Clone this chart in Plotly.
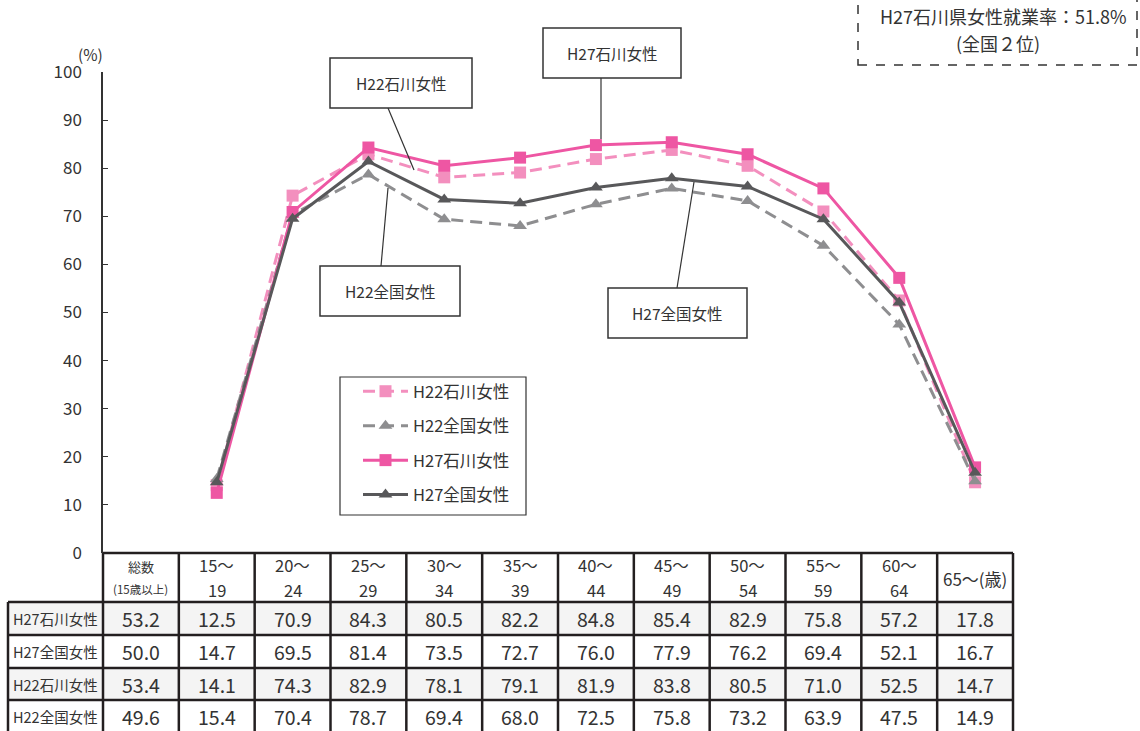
import plotly.graph_objects as go

W, H = 1140, 731

# ---------------- data ----------------
categories = ["総数", "15～19", "20～24", "25～29", "30～34", "35～39", "40～44",
              "45～49", "50～54", "55～59", "60～64", "65～"]
age_groups = categories[1:]
header_labels = ["総数", "15～<br>19", "20～<br>24", "25～<br>29", "30～<br>34", "35～<br>39",
                 "40～<br>44", "45～<br>49", "50～<br>54", "55～<br>59", "60～<br>64", "65～(歳)"]

series_names = ["H22石川女性", "H22全国女性", "H27石川女性", "H27全国女性"]
h22_ishikawa = [14.1, 74.3, 82.9, 78.1, 79.1, 81.9, 83.8, 80.5, 71.0, 52.5, 14.7]
h22_zenkoku = [15.4, 70.4, 78.7, 69.4, 68.0, 72.5, 75.8, 73.2, 63.9, 47.5, 14.9]
h27_ishikawa = [12.5, 70.9, 84.3, 80.5, 82.2, 84.8, 85.4, 82.9, 75.8, 57.2, 17.8]
h27_zenkoku = [14.7, 69.5, 81.4, 73.5, 72.7, 76.0, 77.9, 76.2, 69.4, 52.1, 16.7]

total_h22_ishikawa = 53.4
total_h22_zenkoku = 49.6
total_h27_ishikawa = 53.2
total_h27_zenkoku = 50.0

table_row_names = ["H27石川女性", "H27全国女性", "H22石川女性", "H22全国女性"]
table_rows = [
    [total_h27_ishikawa] + h27_ishikawa,
    [total_h27_zenkoku] + h27_zenkoku,
    [total_h22_ishikawa] + h22_ishikawa,
    [total_h22_zenkoku] + h22_zenkoku,
]

rate_text = "H27石川県女性就業率：51.8%"
rank_text = "(全国２位)"

# ---------------- helpers ----------------
FONT = "Noto Sans CJK JP"
TXT = "#333333"


def px(x):
    return x / W


def py(y):
    return 1 - y / H


X0, X1 = 103, 1013
Y_TOP, Y_ZERO = 72, 553
cw = (X1 - X0) / len(categories)
bounds = [X0 + i * cw for i in range(len(categories) + 1)]

fig = go.Figure()

styles = {
    "H22石川女性": dict(color="#f38fbe", dash="12px,7px", symbol="square", size=12),
    "H22全国女性": dict(color="#8e8e90", dash="12px,7px", symbol="triangle-up", size=12),
    "H27石川女性": dict(color="#ee56a3", dash="solid", symbol="square", size=12),
    "H27全国女性": dict(color="#58585a", dash="solid", symbol="triangle-up", size=12),
}
values = {"H22石川女性": h22_ishikawa, "H22全国女性": h22_zenkoku,
          "H27石川女性": h27_ishikawa, "H27全国女性": h27_zenkoku}

for name in series_names:
    s = styles[name]
    fig.add_trace(go.Scatter(
        x=age_groups, y=values[name], name=name, mode="lines+markers",
        legendgroup=name,
        line=dict(color=s["color"], width=3, dash=s["dash"]),
        marker=dict(symbol=s["symbol"], size=s["size"], color=s["color"]),
    ))

shapes = []
annotations = []
LC = "#231f20"


def line(x0, y0, x1, y1, w=2, color=LC, dash=None):
    d = dict(type="line", xref="paper", yref="paper",
             x0=px(x0), y0=py(y0), x1=px(x1), y1=py(y1),
             line=dict(color=color, width=w))
    if dash:
        d["line"]["dash"] = dash
    shapes.append(d)


def text(x, y, t, size, color=TXT, **kw):
    annotations.append(dict(xref="paper", yref="paper", x=px(x), y=py(y), text=t,
                            showarrow=False, xanchor="center", yanchor="middle",
                            font=dict(family=FONT, size=size, color=color), **kw))


# ---------------- table ----------------
row_lines = [602, 635, 668, 700, 733]
for r in (0, 2):
    shapes.append(dict(type="rect", xref="paper", yref="paper", layer="below",
                       x0=px(8), x1=px(bounds[-1]), y0=py(row_lines[r]), y1=py(row_lines[r + 1]),
                       fillcolor="#f4f4f4", line=dict(width=0)))
line(X0, Y_ZERO, bounds[-1], Y_ZERO, w=2.5)
for yy in row_lines[:-1]:
    line(8, yy, bounds[-1], yy, w=2.5)
line(8, 602, 8, 740, w=2.5)
for b in bounds:
    line(b, Y_ZERO, b, 740, w=2.5)

# header
for i, lab in enumerate(header_labels):
    cx = (bounds[i] + bounds[i + 1]) / 2
    if i == 0:
        text(cx, 566, "総数", 13)
        text(cx, 589, "(15歳以上)", 11.5)
    else:
        parts = lab.split("<br>")
        if len(parts) == 2:
            text(cx, 565, parts[0], 16.5)
            text(cx, 590, parts[1], 16.5)
        else:
            text(cx, 578, parts[0], 17)

# rows
for r, (rname, vals) in enumerate(zip(table_row_names, table_rows)):
    cy = (row_lines[r] + row_lines[r + 1]) / 2
    text(55, cy, rname, 14.5)
    for i, v in enumerate(vals):
        cx = (bounds[i] + bounds[i + 1]) / 2
        text(cx, cy, f"{v:.1f}", 19.5)

# ---------------- callouts ----------------
callouts = [
    ("H22石川女性", (330, 58, 472, 108), (388, 108, 414, 170)),
    ("H27石川女性", (543, 28, 681, 78), (601, 78, 601, 139)),
    ("H22全国女性", (320, 266, 460, 316), (381, 266, 388, 188)),
    ("H27全国女性", (608, 288, 747, 338), (677, 288, 694, 182)),
]
for label, (bx0, by0, bx1, by1), (lx0, ly0, lx1, ly1) in callouts:
    line(lx0, ly0, lx1, ly1, w=1.2, color="#333333")
    shapes.append(dict(type="rect", xref="paper", yref="paper",
                       x0=px(bx0), x1=px(bx1), y0=py(by1), y1=py(by0),
                       fillcolor="white", line=dict(color="#333333", width=1.5)))
    text((bx0 + bx1) / 2, (by0 + by1) / 2, label, 15.5)

# top-right dashed box
shapes.append(dict(type="rect", xref="paper", yref="paper",
                   x0=px(858), x1=px(1137), y0=py(65), y1=py(-10),
                   fillcolor="rgba(0,0,0,0)", line=dict(color="#333333", width=1.5, dash="dash")))
text(1003, 16, rate_text, 18)
text(998, 43, rank_text, 18)

# legend frame
shapes.append(dict(type="rect", xref="paper", yref="paper", layer="below",
                   x0=px(340), x1=px(526), y0=py(515), y1=py(377),
                   fillcolor="white", line=dict(color="#333333", width=1.2)))

# (%) label
text(90, 54, "(%)", 15.5)

fig.update_layout(
    width=W, height=H,
    margin=dict(l=0, r=0, t=0, b=0, pad=0, autoexpand=False),
    paper_bgcolor="white", plot_bgcolor="white",
    font=dict(family=FONT, color=TXT),
    showlegend=True,
    legend=dict(x=px(358), y=py(374), xanchor="left", yanchor="top",
                bgcolor="rgba(0,0,0,0)", borderwidth=0,
                font=dict(family=FONT, size=16.5, color=TXT),
                tracegroupgap=10, itemwidth=45),
    xaxis=dict(domain=[px(X0), px(X1)], type="category",
               categoryorder="array", categoryarray=categories,
               range=[-0.5, len(categories) - 0.5], automargin=False,
               showgrid=False, zeroline=False, showline=False,
               showticklabels=False, ticks=""),
    yaxis=dict(domain=[py(Y_ZERO), py(Y_TOP)], range=[0, 100], dtick=10,
               automargin=False,
               showgrid=False, zeroline=False, showline=True,
               linecolor="#333333", linewidth=1.5,
               ticks="inside", ticklen=5, tickcolor="#333333", tickwidth=1,
               ticklabelstandoff=16,
               tickfont=dict(family=FONT, size=17, color=TXT)),
    shapes=shapes,
    annotations=annotations,
)

fig.write_html("out.html", config={"displayModeBar": False},
               post_script="document.body.style.margin='0px';document.body.style.overflow='hidden';")
